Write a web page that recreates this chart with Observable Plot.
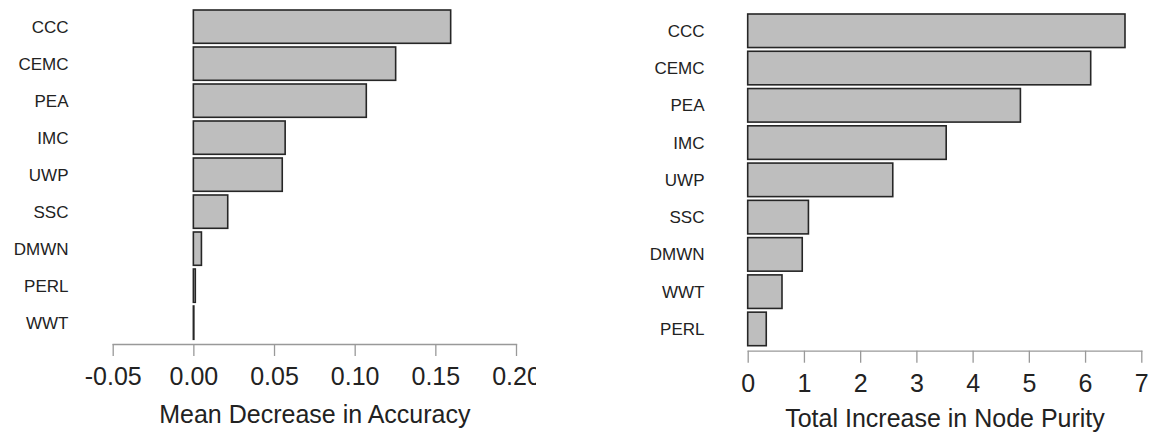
<!DOCTYPE html>
<html>
<head>
<meta charset="utf-8">
<script src="https://cdn.jsdelivr.net/npm/d3@7"></script>
<script src="https://cdn.jsdelivr.net/npm/@observablehq/plot@0.6"></script>
<style>
  html, body { margin: 0; padding: 0; background: white; }
  #wrap { position: relative; width: 1149px; height: 440px; overflow: hidden; background: white; }
  #left { position: absolute; left: 0; top: 0; }
  #right { position: absolute; left: 575px; top: 0; }
</style>
</head>
<body>
<div id="wrap"><div id="left"></div><div id="right"></div></div>
<script>
// Left panel: Mean Decrease in Accuracy
const accCats = ["CCC", "CEMC", "PEA", "IMC", "UWP", "SSC", "DMWN", "PERL", "WWT"];
const accValues = [0.1595, 0.1254, 0.1072, 0.0569, 0.0551, 0.0213, 0.0050, 0.0012, 0.0003];
const accTicks = [-0.05, 0.00, 0.05, 0.10, 0.15, 0.20];
const accTitle = "Mean Decrease in Accuracy";

// Right panel: Total Increase in Node Purity
const purCats = ["CCC", "CEMC", "PEA", "IMC", "UWP", "SSC", "DMWN", "WWT", "PERL"];
const purValues = [6.71, 6.10, 4.85, 3.53, 2.58, 1.08, 0.97, 0.61, 0.33];
const purTicks = [0, 1, 2, 3, 4, 5, 6, 7];
const purTitle = "Total Increase in Node Purity";

const FONT = "'Liberation Sans', Arial, Helvetica, sans-serif";
const hyphenMinus = (f) => (d) => f(d).replace("\u2212", "-");

function panel({cats, values, ticks, fmt, title, width, marginLeft, marginRight, marginBottom, yRange, labelPad, xDomain, titleDy}) {
  const data = cats.map((c, i) => ({name: c, value: values[i]}));
  return Plot.plot({
    width, height: 440,
    marginLeft, marginRight, marginTop: 0, marginBottom,
    style: {fontFamily: FONT, background: "white", overflow: "hidden"},
    x: {domain: xDomain},
    y: {domain: cats, range: yRange, paddingInner: 0.1, paddingOuter: 0, round: false},
    marks: [
      Plot.frame({anchor: "bottom", stroke: "#999", strokeWidth: 1.3}),
      Plot.barX(data, {x: "value", y: "name", fill: "#bebebe", stroke: "#262626", strokeWidth: 1.6}),
      Plot.axisY({anchor: "left", tickSize: 0, tickPadding: labelPad, fontSize: 17, fill: "#222", label: null}),
      Plot.axisX(ticks, {anchor: "bottom", tickSize: 12, tickPadding: 11, fontSize: 25, stroke: "#999", strokeWidth: 1.3, fill: "#222", tickFormat: fmt, label: null}),
      Plot.text([title], {frameAnchor: "bottom", dy: titleDy, fontSize: 25, fill: "#222"})
    ]
  });
}

document.getElementById("left").append(panel({
  cats: accCats, values: accValues, ticks: accTicks, fmt: hyphenMinus(d3.format(".2f")), title: accTitle,
  width: 536, marginLeft: 112.7, marginRight: 20, marginBottom: 96,
  yRange: [10, 339.3], labelPad: 44.7, xDomain: [-0.05, 0.20], titleDy: 78
}));

document.getElementById("right").append(panel({
  cats: purCats, values: purValues, ticks: purTicks, fmt: d3.format("d"), title: purTitle,
  width: 574, marginLeft: 172.7, marginRight: 7.7, marginBottom: 89.3,
  yRange: [14, 345.7], labelPad: 43.7, xDomain: [0, 7], titleDy: 76
}));
</script>
</body>
</html>
